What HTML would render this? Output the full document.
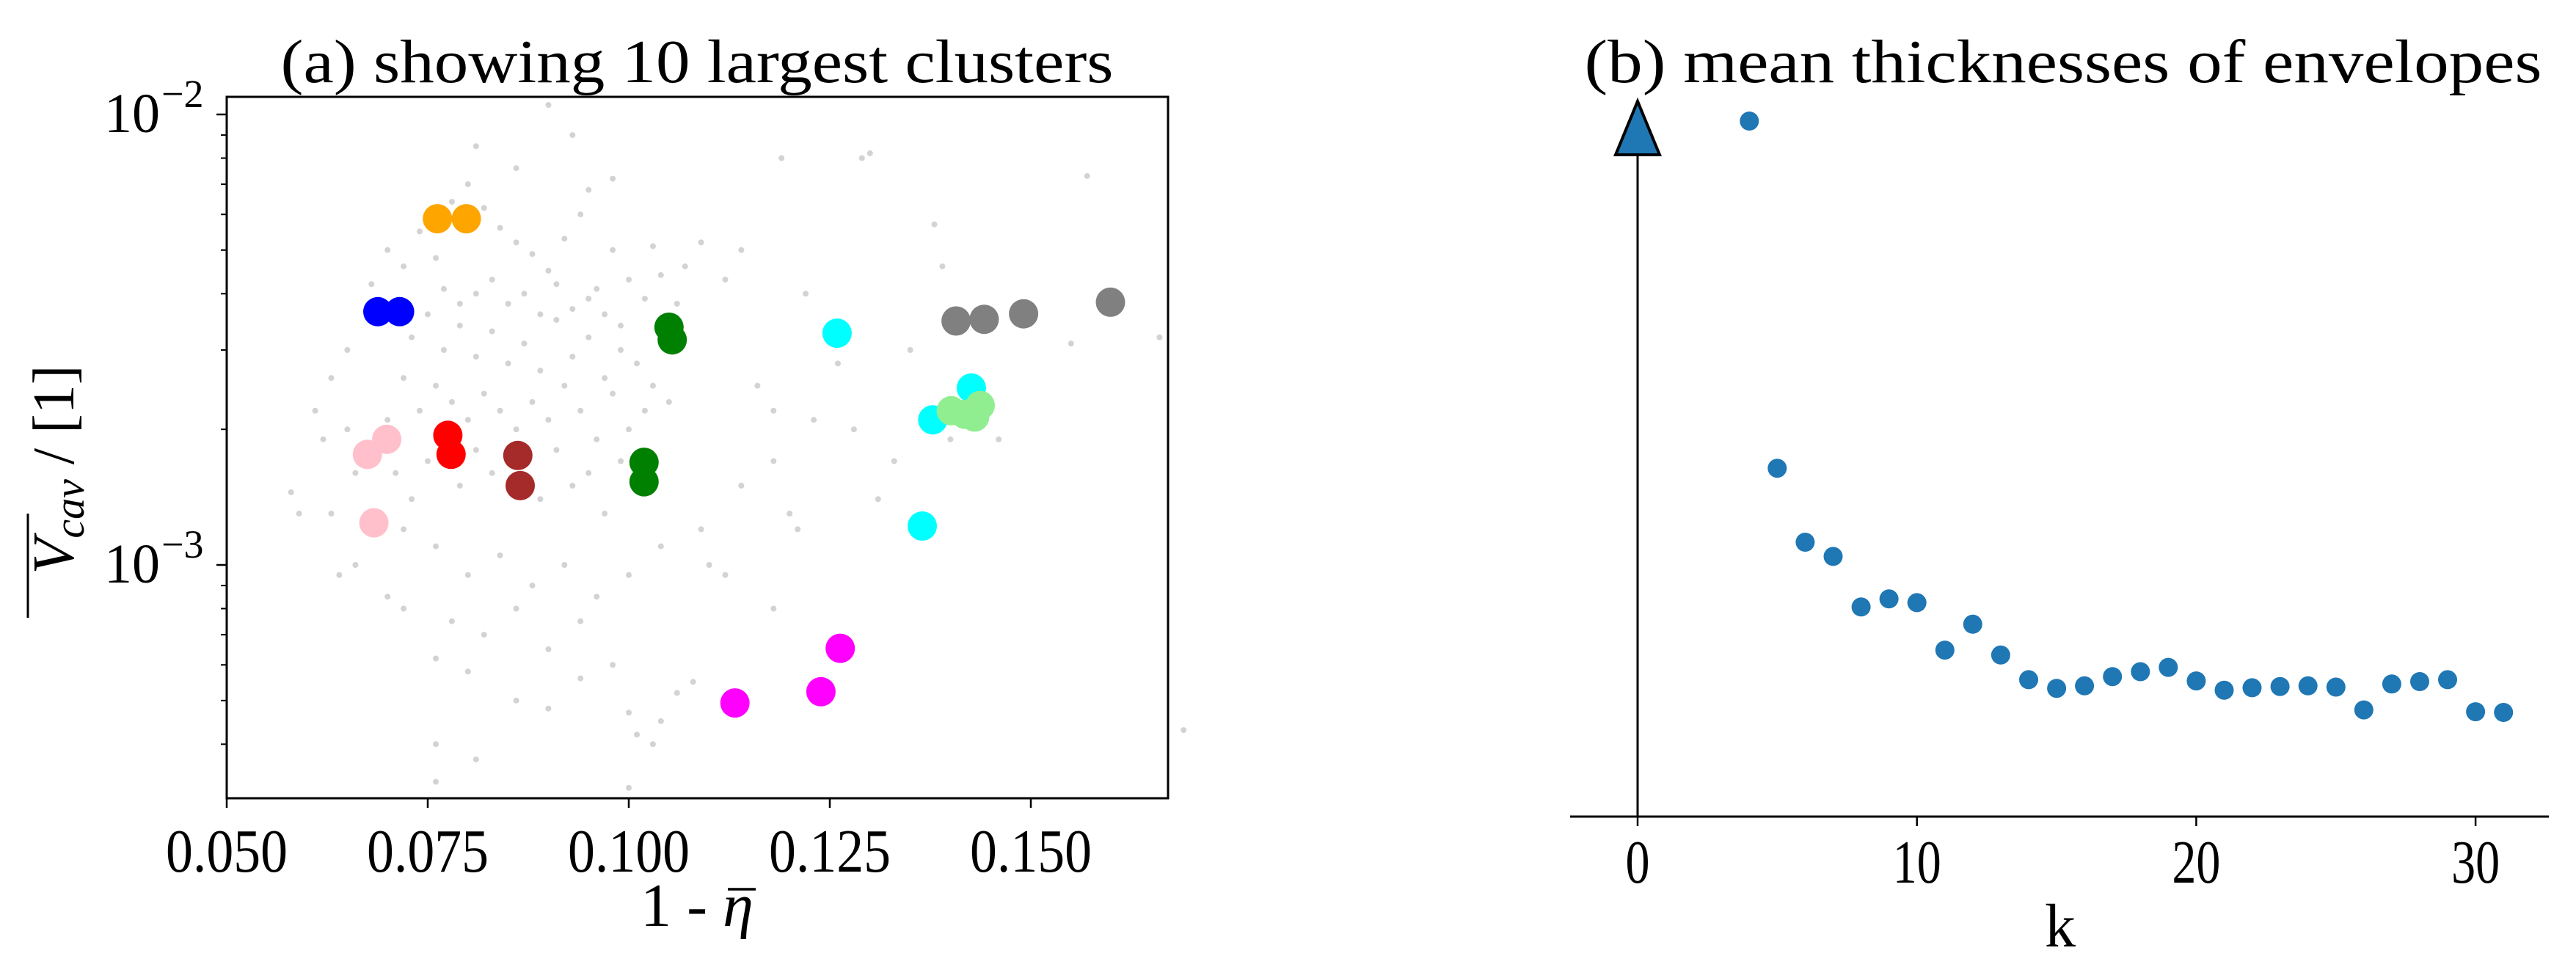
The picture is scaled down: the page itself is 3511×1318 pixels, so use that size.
<!DOCTYPE html>
<html><head><meta charset="utf-8"><style>
html,body{margin:0;padding:0;background:#fff;}
svg{display:block;}
text{font-family:"Liberation Serif","DejaVu Serif",serif;fill:#000;}
</style></head><body>
<svg id="fig" width="3511" height="1318" viewBox="0 0 3511 1318" xmlns="http://www.w3.org/2000/svg">
<g id="pa"></g>
<g id="pb"></g>
</svg>
<script>
// ---------- Panel (a) data ----------
const bgX = [0.068,0.070,0.072,0.074,0.076,0.078,0.080,0.082,0.084,0.086,0.088,0.090,0.092,0.094,0.096,0.098,0.100,0.102,0.104,0.106,
0.073,0.075,0.077,0.079,0.081,0.083,0.085,0.087,0.089,0.091,0.093,0.095,0.097,0.099,0.101,0.103,0.105,
0.072,0.074,0.076,0.078,0.080,0.082,0.084,0.086,0.088,0.090,0.092,0.094,0.096,0.098,0.100,0.102,
0.070,0.071,0.073,0.075,0.079,0.081,0.083,0.087,0.089,0.091,0.093,0.095,0.097,0.099,
0.085,0.087,0.089,0.091,0.093,0.083,0.081,0.079,0.077,0.095,0.097,0.099,
0.086,0.081,0.090,0.093,0.095,0.098,0.103,0.107,0.109,
0.066,0.072,0.076,0.080,0.084,0.088,0.092,0.096,0.100,0.104,0.110,0.078,0.082,0.086,0.090,0.094,0.098,0.076,0.080,0.086,0.090,0.094,0.100,0.104,0.076,0.081,0.101,0.103,0.076,0.100,0.064,0.070,0.072,
0.058,0.059,0.061,0.062,0.063,0.063,0.065,0.066,0.065,
0.112,0.114,0.116,0.118,0.119,0.122,0.123,0.126,0.128,0.129,0.130,0.131,0.133,0.135,0.138,0.139,0.140,0.146,0.155,0.157,0.166,0.169,0.118,0.114,0.120,0.109,0.112,0.118,0.108,0.106,0.121];
const bgY = [4.2,5.0,4.6,5.5,4.8,6.4,7.0,6.2,5.6,5.2,4.9,4.5,5.3,6.0,4.1,5.0,4.3,3.9,4.4,3.8,
3.2,3.6,3.0,3.4,2.9,3.3,2.8,3.1,2.7,3.5,2.9,3.2,2.6,3.0,2.8,2.5,2.3,
2.6,2.2,2.5,2.3,2.1,2.4,2.2,2.0,2.3,2.1,2.5,2.2,1.9,2.4,2.0,2.2,
2.1,1.6,1.4,1.7,1.5,1.8,1.6,1.7,1.4,1.8,1.5,1.6,1.3,1.7,
3.8,4.0,3.6,4.2,3.7,4.3,4.0,3.8,4.1,3.9,3.6,3.4,
7.6,8.5,10.5,9.0,6.8,7.2,5.1,4.6,5.2,
1.0,1.2,1.1,0.95,1.05,0.9,1.0,0.85,0.95,1.1,1.0,0.75,0.7,0.8,0.65,0.75,0.6,0.62,0.58,0.5,0.48,0.56,0.47,0.45,0.4,0.37,0.42,0.40,0.33,0.32,0.95,0.85,0.8,
1.45,1.3,2.2,1.9,2.6,1.3,2.0,1.6,3.0,
4.3,5.0,2.5,2.2,8.0,4.0,2.1,2.8,2.0,8.0,8.2,1.4,1.7,3.0,5.7,4.6,1.9,1.9,3.1,7.3,3.2,0.43,1.7,1.5,1.3,1.2,0.95,0.8,0.55,0.52,1.2]; // units of 1e-3

const clusterColors = ["orange","blue","green","cyan","gray","lightgreen","pink","red","brown","magenta"];
const clusterX = [
 [0.0762,0.0798],
 [0.0688,0.0715],
 [0.1050,0.1054,0.1019,0.1019],
 [0.1259,0.1426,0.1378,0.1365],
 [0.1407,0.1442,0.1491,0.1599],
 [0.1401,0.1418,0.1430,0.1437],
 [0.0675,0.0699,0.0683],
 [0.0775,0.0779],
 [0.0862,0.0865],
 [0.1132,0.1239,0.1263]];
const clusterY = [
 [5.87,5.87],
 [3.65,3.65],
 [3.37,3.16,1.69,1.53],
 [3.27,2.47,2.10,1.22],
 [3.48,3.51,3.61,3.83],
 [2.20,2.16,2.13,2.26],
 [1.76,1.90,1.24],
 [1.94,1.76],
 [1.75,1.50],
 [0.494,0.523,0.653]]; // units of 1e-3

const xTicksA = [0.050,0.075,0.100,0.125,0.150];
const xTickLabelsA = ["0.050","0.075","0.100","0.125","0.150"];
const yMajorA = [-2,-3];
const yMajorLabelsA = ["\u22122","\u22123"];

// ---------- Panel (b) data ----------
const kVals = [4,5,6,7,8,9,10,11,12,13,14,15,16,17,18,19,20,21,22,23,24,25,26,27,28,29,30,31];
const thick = [11.28,5.65,4.45,4.22,3.40,3.53,3.47,2.70,3.12,2.62,2.22,2.08,2.12,2.27,2.35,2.42,2.20,2.05,2.09,2.11,2.12,2.10,1.73,2.15,2.19,2.22,1.70,1.69];
const xTicksB = [0,10,20,30];

const NS = "http://www.w3.org/2000/svg";
function mk(parent, tag, attrs, txt){
  const e = document.createElementNS(NS, tag);
  for (const k in attrs) e.setAttribute(k, attrs[k]);
  if (txt !== undefined) e.textContent = txt;
  parent.appendChild(e);
  return e;
}

// ===== Panel A =====
const pa = document.getElementById("pa");
const AL=309, AR=1592, AT=132, AB=1088;
const xA = v => AL + (v-0.05)/0.025*274;
const yA = v => 156 + (-2 - Math.log10(v))*614;

for (let i=0;i<bgX.length;i++){
  const c = mk(pa,"circle",{cx:xA(bgX[i]).toFixed(1),cy:yA(bgY[i]*1e-3).toFixed(1),r:4,fill:"#d3d3d3"});
  
  
}
for (let j=0;j<clusterX.length;j++){
  const g = mk(pa,"g",{});
  
  
  for (let i=0;i<clusterX[j].length;i++){
    const c = mk(g,"circle",{cx:xA(clusterX[j][i]).toFixed(1),cy:yA(clusterY[j][i]*1e-3).toFixed(1),r:20,fill:clusterColors[j]});
    
    
  }
}
const fr = mk(pa,"rect",{x:AL,y:AT,width:AR-AL,height:AB-AT,fill:"none",stroke:"#000","stroke-width":3});


for (let i=0;i<xTicksA.length;i++){
  const x = xA(xTicksA[i]);
  const t = mk(pa,"line",{x1:x,x2:x,y1:AB,y2:AB+13,stroke:"#000","stroke-width":2.5});
  
  
  const l = mk(pa,"text",{x:x,y:1188,"font-size":84,"text-anchor":"middle",textLength:166,lengthAdjust:"spacingAndGlyphs"},xTickLabelsA[i]);
  
  
}
for (let i=0;i<yMajorA.length;i++){
  const y = yA(Math.pow(10,yMajorA[i]));
  const t = mk(pa,"line",{x1:AL-14,x2:AL,y1:y,y2:y,stroke:"#000","stroke-width":2.5});
  
  
  const l = mk(pa,"text",{x:218,y:y+24,"font-size":76,"text-anchor":"end"},"10");
  
  
  const s = mk(pa,"text",{x:220,y:y-10,"font-size":54,"text-anchor":"start"},yMajorLabelsA[i]);
  
  
}
for (const dec of [-4,-3]){
  for (let m=2;m<=9;m++){
    const v = m*Math.pow(10,dec);
    const y = yA(v);
    if (y<AT || y>AB) continue;
    const t = mk(pa,"line",{x1:AL-8,x2:AL,y1:y,y2:y,stroke:"#000","stroke-width":2});
    
    
  }
}
const ta = mk(pa,"text",{x:950,y:112,"font-size":84,"text-anchor":"middle",textLength:1135,lengthAdjust:"spacingAndGlyphs"},"(a) showing 10 largest clusters");


const xl = mk(pa,"text",{x:950,y:1262,"font-size":84,"text-anchor":"middle"},"");


mk(xl,"tspan",{},"1 - ");
mk(xl,"tspan",{"font-style":"italic"},"\u03B7");
const ob = mk(pa,"line",{x1:992,x2:1030,y1:1212,y2:1212,stroke:"#000","stroke-width":3.5});


const yg = mk(pa,"g",{transform:"translate(100,640) rotate(-90)"});


const yt = mk(yg,"text",{x:0,y:0,"font-size":80,"text-anchor":"middle"},"");
mk(yt,"tspan",{"font-style":"italic"},"V");
mk(yt,"tspan",{"font-style":"italic","font-size":58,dy:14},"cav");
mk(yt,"tspan",{dy:-14},"  /  [1]");
mk(yg,"line",{x1:-202,x2:-60,y1:-62,y2:-62,stroke:"#000","stroke-width":3});

// ===== Panel B =====
const pb = document.getElementById("pb");
const BX0 = 2232, BY0 = 1113;
const xB = v => BX0 + v*38.07;
const yB = v => BY0 - v*84.04;
const ax = mk(pb,"line",{x1:2140,x2:3474,y1:BY0,y2:BY0,stroke:"#000","stroke-width":3});


const ay = mk(pb,"line",{x1:BX0,x2:BX0,y1:BY0,y2:205,stroke:"#000","stroke-width":3});


const ar = mk(pb,"polygon",{points:`${BX0},138 ${BX0-30},211 ${BX0+30},211`,fill:"#1f77b4",stroke:"#000","stroke-width":4,"stroke-linejoin":"miter"});


for (let i=0;i<xTicksB.length;i++){
  const x = xB(xTicksB[i]);
  const t = mk(pb,"line",{x1:x,x2:x,y1:BY0,y2:BY0+13,stroke:"#000","stroke-width":2.5});
  
  
  const lbl = String(xTicksB[i]);
  const l = mk(pb,"text",{x:x,y:1203,"font-size":84,"text-anchor":"middle",textLength:lbl.length*33,lengthAdjust:"spacingAndGlyphs"},lbl);
  
  
}
for (let i=0;i<kVals.length;i++){
  const c = mk(pb,"circle",{cx:xB(kVals[i]).toFixed(1),cy:yB(thick[i]).toFixed(1),r:13,fill:"#1f77b4"});
  
  
}
const tb = mk(pb,"text",{x:2812,y:112,"font-size":84,"text-anchor":"middle",textLength:1305,lengthAdjust:"spacingAndGlyphs"},"(b) mean thicknesses of envelopes");


const kl = mk(pb,"text",{x:2808,y:1290,"font-size":84,"text-anchor":"middle"},"k");


</script>
</body></html>
